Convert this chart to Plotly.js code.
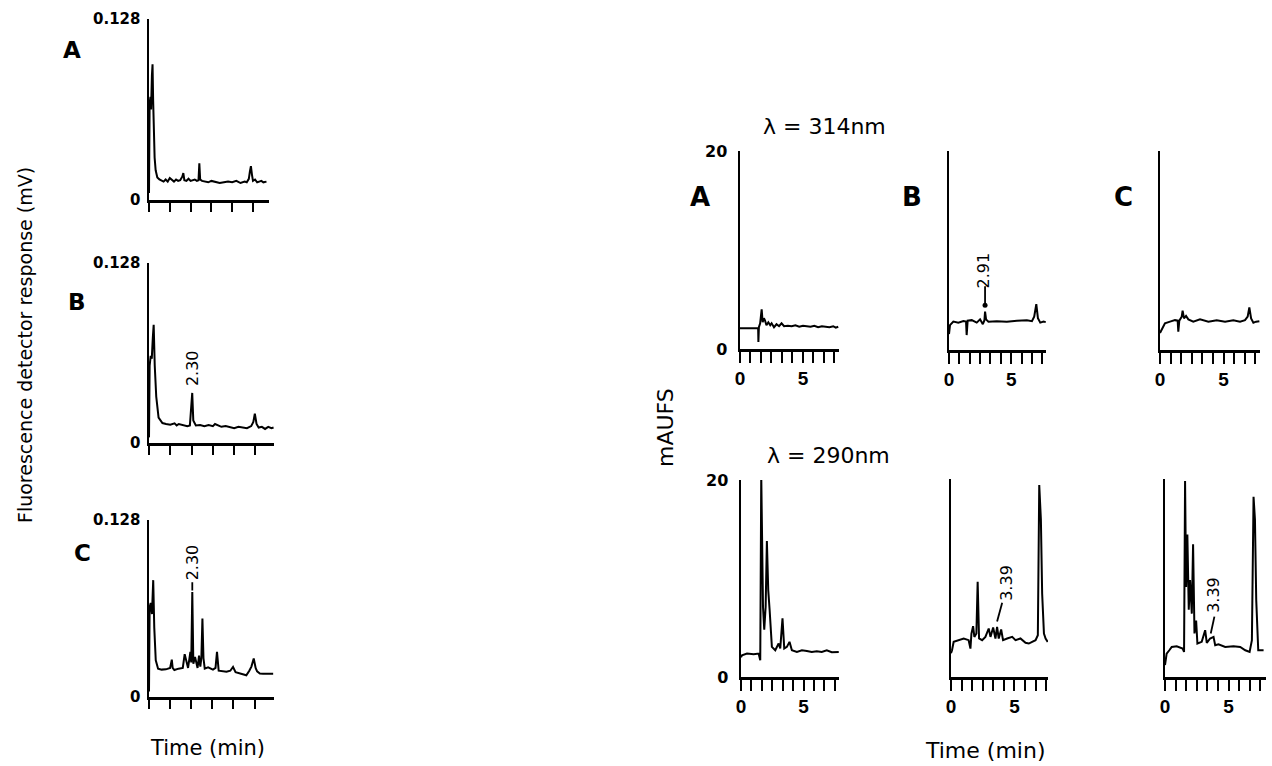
<!DOCTYPE html>
<html>
<head>
<meta charset="utf-8">
<script src="https://cdn.plot.ly/plotly-3.0.1.min.js"></script>
<style>html,body{margin:0;padding:0;background:#fff;}#chart{width:1272px;height:766px;}</style>
</head>
<body>
<div id="chart"></div>
<script>
// ---------- tick data ----------
const leftTickTimes = [0, 1, 2, 3, 4, 5];
const leftYTicks = [0, 0.128];
const leftYText = ['0', '0.128'];
const rightTickTimes = [0, 0.833, 1.667, 2.5, 3.333, 4.167, 5, 5.833, 6.667, 7.5];
const rightTickText = ['0', '', '', '', '', '', '5', '', '', ''];
const rightYTicks = [0, 20];
const rightYTextA = ['0', '20'];
const rightYTextBlank = ['', ''];

// ---------- fluorescence chromatograms (left) ----------
const fluorA_t = [0,0.03,0.07,0.1,0.14,0.17,0.2,0.23,0.27,0.32,0.4,0.5,0.6,0.7,0.8,0.9,1.0,1.1,1.2,1.3,1.4,1.5,1.6,1.65,1.7,1.8,1.9,2.0,2.1,2.2,2.3,2.38,2.42,2.46,2.55,2.7,2.85,3.0,3.2,3.4,3.6,3.8,4.0,4.2,4.4,4.6,4.7,4.8,4.85,4.9,4.95,5.0,5.1,5.2,5.3,5.4,5.5,5.65];
const fluorA_y = [0.005,0.068,0.073,0.064,0.088,0.096,0.07,0.045,0.03,0.021,0.016,0.0145,0.0135,0.013,0.0145,0.013,0.0155,0.0145,0.013,0.0145,0.0135,0.014,0.0165,0.019,0.014,0.0135,0.015,0.0135,0.014,0.0145,0.0135,0.014,0.026,0.0145,0.0135,0.013,0.0125,0.0135,0.0125,0.012,0.0125,0.013,0.0125,0.0135,0.012,0.013,0.0125,0.015,0.02,0.024,0.018,0.0135,0.0145,0.0125,0.013,0.0135,0.0125,0.013];

const fluorB_t = [0,0.03,0.08,0.13,0.18,0.22,0.27,0.34,0.45,0.63,0.8,1.0,1.2,1.3,1.4,1.6,1.8,1.92,1.98,2.03,2.08,2.2,2.4,2.6,2.8,3.0,3.1,3.2,3.4,3.6,3.8,4.0,4.2,4.4,4.6,4.8,4.9,4.97,5.05,5.15,5.3,5.45,5.6,5.75,5.85];
const fluorB_y = [0.004,0.055,0.062,0.06,0.075,0.084,0.055,0.033,0.018,0.0142,0.0135,0.013,0.014,0.0125,0.0135,0.013,0.012,0.0125,0.024,0.0356,0.016,0.0125,0.0128,0.012,0.0128,0.012,0.0135,0.013,0.0115,0.012,0.011,0.0105,0.0115,0.011,0.0105,0.012,0.015,0.0209,0.0135,0.011,0.0115,0.01,0.0115,0.0105,0.011];

const fluorC_t = [0,0.03,0.08,0.14,0.2,0.25,0.32,0.43,0.6,0.8,1.0,1.08,1.12,1.2,1.4,1.6,1.69,1.78,1.85,1.96,2.0,2.05,2.1,2.18,2.24,2.3,2.37,2.43,2.48,2.53,2.58,2.64,2.8,3.03,3.15,3.22,3.3,3.5,3.67,3.85,3.98,4.1,4.22,4.4,4.61,4.75,4.85,4.96,5.05,5.12,5.25,5.4,5.6,5.88];
const fluorC_y = [0.004,0.065,0.068,0.06,0.0845,0.05,0.0266,0.0205,0.0198,0.02,0.021,0.027,0.021,0.0195,0.0205,0.021,0.031,0.024,0.021,0.0326,0.025,0.076,0.024,0.029,0.025,0.021,0.03,0.022,0.028,0.0568,0.028,0.0205,0.0215,0.0198,0.021,0.0326,0.019,0.0185,0.0182,0.019,0.0217,0.018,0.0175,0.0165,0.0157,0.019,0.022,0.0278,0.021,0.0185,0.017,0.0169,0.017,0.0169];

// ---------- UV chromatograms, 314 nm (right, top row) ----------
const uv314A_t = [0,0.3,0.6,0.9,1.2,1.44,1.46,1.5,1.6,1.72,1.8,1.9,1.98,2.1,2.25,2.4,2.51,2.7,2.9,3.1,3.3,3.5,3.8,4.1,4.4,4.7,5.0,5.3,5.6,5.9,6.2,6.5,6.8,7.1,7.4,7.6,7.8];
const uv314A_y = [2.1,2.1,2.15,2.1,2.1,2.1,0.7,2.2,2.6,4.0,2.7,3.1,2.9,2.4,2.7,2.4,2.6,2.2,2.5,2.3,2.6,2.3,2.35,2.3,2.4,2.25,2.35,2.3,2.25,2.35,2.2,2.3,2.25,2.2,2.3,2.15,2.25];

const uv314B_t = [0,0.08,0.35,0.75,1.16,1.37,1.42,1.5,1.83,2.23,2.5,2.72,2.85,2.9,2.98,3.17,3.84,4.65,5.46,6.26,6.67,6.85,7.02,7.15,7.34,7.6,7.78];
const uv314B_y = [1.6,2.5,2.85,2.75,2.9,2.85,1.5,2.95,3.0,2.75,3.08,2.6,3.0,3.85,3.08,2.85,2.9,2.85,2.95,3.0,2.9,3.35,4.6,3.2,2.75,2.85,2.8];

const uv314C_t = [0,0.13,0.39,0.79,1.18,1.39,1.44,1.52,1.71,1.78,1.89,2.05,2.23,2.62,3.15,3.81,4.46,5.12,5.77,6.3,6.69,6.9,7.03,7.17,7.35,7.56,7.82];
const uv314C_y = [1.7,2.08,2.68,2.85,3.0,2.95,1.84,2.95,3.35,3.95,3.18,3.42,3.08,2.85,3.08,2.85,3.0,2.85,3.0,2.85,3.0,3.35,4.29,3.18,2.75,2.85,2.9];

// ---------- UV chromatograms, 290 nm (right, bottom row) ----------
const uv290A_t = [0,0.08,0.48,1.01,1.41,1.54,1.62,1.7,1.76,1.86,1.97,2.07,2.18,2.29,2.39,2.47,2.74,3.01,3.14,3.32,3.46,3.67,3.88,4.07,4.47,4.87,5.27,5.66,6.06,6.46,6.86,7.26,7.82];
const uv290A_y = [2.0,2.2,2.38,2.31,2.38,1.7,20.5,11.9,7.1,4.8,7.1,13.8,8.8,6.8,4.1,3.06,2.72,3.4,2.9,5.95,2.9,3.06,3.57,2.72,2.55,2.72,2.65,2.55,2.62,2.55,2.72,2.52,2.55];

const uv290B_t = [0,0.08,0.21,0.61,1.0,1.39,1.53,1.61,1.74,1.84,2.0,2.1,2.21,2.45,2.71,2.97,3.11,3.32,3.5,3.63,3.76,3.95,4.1,4.42,4.82,5.08,5.47,5.87,6.13,6.39,6.66,6.84,6.95,7.08,7.18,7.32,7.45,7.62];
const uv290B_y = [2.4,2.7,3.55,3.72,3.89,3.72,2.87,4.39,5.14,4.05,4.39,9.63,3.89,3.72,4.05,4.9,4.05,5.0,3.89,5.07,3.89,4.8,3.72,3.89,4.05,3.72,3.89,3.45,3.38,3.55,3.72,4.22,19.4,15.9,8.4,4.39,3.89,3.55];

const uv290C_t = [0,0.05,0.13,0.34,0.53,0.92,1.18,1.39,1.5,1.58,1.66,1.76,1.87,1.97,2.11,2.21,2.32,2.45,2.55,2.89,3.16,3.29,3.55,3.82,3.95,4.21,4.74,5.39,5.92,6.32,6.66,6.84,6.97,7.08,7.18,7.34,7.76];
const uv290C_y = [1.2,1.69,2.36,2.7,3.04,3.11,2.97,2.87,2.53,19.8,9.1,14.4,6.8,9.8,6.4,13.4,4.4,5.7,3.38,3.55,4.73,3.45,3.89,4.05,3.21,3.31,3.04,3.11,3.04,2.7,2.53,3.72,18.2,15.9,7.8,2.7,2.7];

// ---------- peak annotations ----------
const peakLabels = ['2.30', '2.30', '2.91', '3.39', '3.39'];
const peakLabelT = [2.05, 2.05, 2.74, 4.40, 3.86];
const peakLabelV = [0.053, 0.0976, 8.0, 9.5, 8.3];
const peakLabelAxis = ['2', '3', '5', '8', '9'];
const leaderAxis = ['3', '5', '8', '9'];
const leaderT0 = [2.05, 2.9, 4.03, 3.89];
const leaderV0 = [0.083, 6.4, 7.5, 6.1];
const leaderT1 = [2.05, 2.9, 3.63, 3.6];
const leaderV1 = [0.077, 4.5, 5.6, 4.4];
const markT = [2.9];
const markV = [4.5];

// ---------- layout helpers ----------
const W = 1272, H = 766;
const dx = (a, b) => [a / W, b / W];
const dy = (top, bot) => [1 - bot / H, 1 - top / H];
const px = v => v / W;
const py = v => 1 - v / H;

const lineStyle = {color: '#000', width: 2};
const traces = [
  {x: fluorA_t, y: fluorA_y, xaxis: 'x', yaxis: 'y'},
  {x: fluorB_t, y: fluorB_y, xaxis: 'x2', yaxis: 'y2'},
  {x: fluorC_t, y: fluorC_y, xaxis: 'x3', yaxis: 'y3'},
  {x: uv314A_t, y: uv314A_y, xaxis: 'x4', yaxis: 'y4'},
  {x: uv314B_t, y: uv314B_y, xaxis: 'x5', yaxis: 'y5'},
  {x: uv314C_t, y: uv314C_y, xaxis: 'x6', yaxis: 'y6'},
  {x: uv290A_t, y: uv290A_y, xaxis: 'x7', yaxis: 'y7'},
  {x: uv290B_t, y: uv290B_y, xaxis: 'x8', yaxis: 'y8'},
  {x: uv290C_t, y: uv290C_y, xaxis: 'x9', yaxis: 'y9'}
].map(t => Object.assign({type: 'scatter', mode: 'lines', line: lineStyle, hoverinfo: 'skip'}, t));
traces.push({type: 'scatter', mode: 'markers', x: markT, y: markV, xaxis: 'x5', yaxis: 'y5',
  marker: {color: '#000', size: 5}, hoverinfo: 'skip'});

const panels = [
  {xd: dx(149, 269), yd: dy(19, 200), xr: [0, 5.77], yr: [0, 0.128], left: true, ytext: leftYText},
  {xd: dx(149, 274), yd: dy(263, 443), xr: [0, 5.87], yr: [0, 0.128], left: true, ytext: leftYText},
  {xd: dx(149, 274), yd: dy(520, 697), xr: [0, 5.92], yr: [0, 0.128], left: true, ytext: leftYText},
  {xd: dx(740, 839), yd: dy(151, 349), xr: [0, 7.86], yr: [0, 20], left: false, ytext: rightYTextA},
  {xd: dx(949, 1046), yd: dy(151, 350), xr: [0, 7.8], yr: [0, 20], left: false, ytext: rightYTextBlank},
  {xd: dx(1160, 1260), yd: dy(151, 350), xr: [0, 7.87], yr: [0, 20], left: false, ytext: rightYTextBlank},
  {xd: dx(741, 839), yd: dy(480, 677), xr: [0, 7.84], yr: [0, 20], left: false, ytext: rightYTextA},
  {xd: dx(951, 1048), yd: dy(479, 677), xr: [0, 7.64], yr: [0, 20], left: false, ytext: rightYTextBlank},
  {xd: dx(1165, 1266), yd: dy(479, 677), xr: [0, 7.95], yr: [0, 20], left: false, ytext: rightYTextBlank}
];

const layout = {
  width: W, height: H,
  margin: {l: 0, r: 0, t: 0, b: 0},
  paper_bgcolor: '#fff', plot_bgcolor: 'rgba(0,0,0,0)',
  showlegend: false,
  annotations: [], shapes: []
};

panels.forEach((p, i) => {
  const n = i === 0 ? '' : String(i + 1);
  layout['xaxis' + n] = {
    domain: p.xd, range: p.xr, anchor: 'y' + n,
    showline: true, linecolor: '#000', linewidth: 2.5,
    showgrid: false, zeroline: false, fixedrange: true,
    ticks: 'outside', tickcolor: '#000', tickwidth: 2,
    ticklen: p.left ? 9 : 11,
    tickmode: 'array',
    tickvals: p.left ? leftTickTimes : rightTickTimes,
    ticktext: p.left ? leftTickTimes.map(() => '') : rightTickText,
    showticklabels: !p.left,
    tickfont: {family: 'Liberation Sans, Arial, sans-serif', size: 19, color: '#000', weight: 'bold'}
  };
  layout['yaxis' + n] = {
    domain: p.yd, range: p.yr, anchor: 'x' + n,
    showline: true, linecolor: '#000', linewidth: 2.5,
    showgrid: false, zeroline: false, fixedrange: true,
    ticks: 'inside', tickcolor: '#000', tickwidth: 2, ticklen: 7,
    tickmode: 'array',
    tickvals: p.left ? leftYTicks : rightYTicks,
    ticktext: p.ytext,
    ticklabelstandoff: p.left ? 3 : 7,
    tickfont: {family: 'DejaVu Sans, sans-serif', size: p.left ? 15 : 16, color: '#000', weight: 'bold'}
  };
});

const txt = (x, y, text, size, bold, angle) => ({
  xref: 'paper', yref: 'paper', x: px(x), y: py(y), text: text, showarrow: false,
  xanchor: 'center', yanchor: 'middle', textangle: angle || 0,
  font: {family: 'DejaVu Sans, sans-serif', size: size, color: '#000', weight: bold ? 'bold' : 'normal'}
});

layout.annotations.push(
  txt(72, 50, 'A', 23, true), txt(77, 302, 'B', 23, true), txt(82, 553, 'C', 23, true),
  txt(700, 197, 'A', 26, true), txt(912, 197, 'B', 26, true), txt(1123, 197, 'C', 26, true),
  txt(824, 126, 'λ = 314nm', 22, false), txt(828, 455, 'λ = 290nm', 22, false),
  txt(25, 345, 'Fluorescence detector response (mV)', 19, false, -90),
  txt(665, 428, 'mAUFS', 22, false, -90),
  txt(207, 748, 'Time (min)', 21, false), txt(985, 750, 'Time (min)', 22, false)
);

peakLabels.forEach((lab, i) => {
  layout.annotations.push({
    xref: 'x' + peakLabelAxis[i], yref: 'y' + peakLabelAxis[i],
    x: peakLabelT[i], y: peakLabelV[i], text: lab, showarrow: false, textangle: -90,
    xanchor: 'center', yanchor: 'middle',
    font: {family: 'DejaVu Sans, sans-serif', size: 16, color: '#000'}
  });
});

leaderAxis.forEach((a, i) => {
  layout.shapes.push({
    type: 'line', xref: 'x' + a, yref: 'y' + a,
    x0: leaderT0[i], y0: leaderV0[i], x1: leaderT1[i], y1: leaderV1[i],
    line: {color: '#000', width: 1.8}
  });
});

Plotly.newPlot('chart', traces, layout, {staticPlot: true, displayModeBar: false});
</script>
</body>
</html>
